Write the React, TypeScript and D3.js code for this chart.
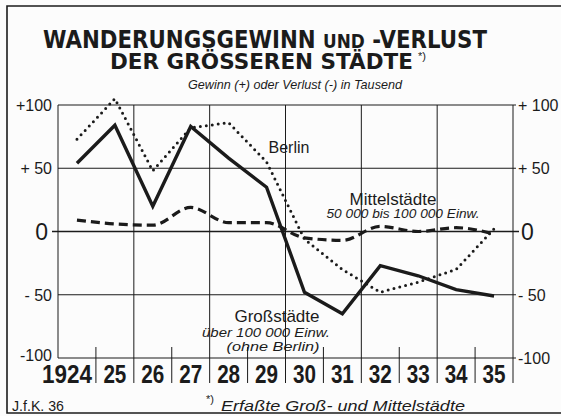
import { useEffect, useRef } from "react";
import * as d3 from "d3";

const years = ["1924", "25", "26", "27", "28", "29", "30", "31", "32", "33", "34", "35"];
const berlin = [73, 105, 48, 82, 86, 55, -6, -30, -48, -40, -30, 2];
const grossstaedte = [54, 84, 20, 83, 58, 35, -48, -65, -27, -35, -46, -51];
const mittelstaedte = [9, 6, 5, 19, 7, 7, -5, -7, 4, 0, 3, -2];
const yTicks = [100, 50, 0, -50, -100];
const tickLabels = ["+100", "+ 50", "0", "- 50", "-100"];
const rightLabels = ["+ 100", "+ 50", "0", "- 50", "-100"];

const INK = "#1b1b1b";
const SANS = "'Liberation Sans', Arial, sans-serif";

const App = () => {
  const svgRef = useRef<SVGSVGElement>(null);

  useEffect(() => {
    const width = 561;
    const height = 416;
    const svg = d3.select(svgRef.current).attr("width", width).attr("height", height);
    svg.selectAll("*").remove();

    svg.append("rect").attr("width", width).attr("height", height).attr("fill", "#fcfcfc");

    // frame
    svg.append("path")
      .attr("d", `M${width},6H7V413H${width}`)
      .attr("fill", "none").attr("stroke", INK).attr("stroke-width", 1.6);

    const left = 58, right = 513, top = 105, bottom = 358, axisBottom = 383;
    const x = d3.scaleBand().domain(years).range([left, right]);
    const y = d3.scaleLinear().domain([-100, 100]).range([bottom, top]);
    const cx = (d: string) => (x(d) as number) + x.bandwidth() / 2;

    // title
    const t1 = svg.append("text")
      .attr("x", 43).attr("y", 48)
      .attr("textLength", 444).attr("lengthAdjust", "spacingAndGlyphs")
      .style("font-family", "'DejaVu Sans', sans-serif").style("font-weight", "bold")
      .style("font-size", "24px").attr("fill", INK);
    t1.append("tspan").text("WANDERUNGSGEWINN ");
    t1.append("tspan").style("font-size", "19px").text("UND");
    t1.append("tspan").text(" -VERLUST");

    svg.append("text")
      .attr("x", 110).attr("y", 69)
      .attr("textLength", 303).attr("lengthAdjust", "spacingAndGlyphs")
      .style("font-family", "'DejaVu Sans', sans-serif").style("font-weight", "bold")
      .style("font-size", "21px").attr("fill", INK)
      .text("DER GRÖSSEREN STÄDTE");
    svg.append("text")
      .attr("x", 418).attr("y", 60)
      .style("font-family", SANS).style("font-size", "11px").attr("fill", INK)
      .text("*)");

    svg.append("text")
      .attr("x", 188).attr("y", 89)
      .attr("textLength", 214).attr("lengthAdjust", "spacingAndGlyphs")
      .style("font-family", SANS).style("font-style", "italic")
      .style("font-size", "13.5px").attr("fill", INK)
      .text("Gewinn (+) oder Verlust (-)  in Tausend");

    // horizontal gridlines
    svg.selectAll(".hgrid")
      .data(yTicks.filter((d) => d !== 0))
      .enter().append("line")
      .attr("x1", left).attr("x2", right + 3)
      .attr("y1", (d) => y(d)).attr("y2", (d) => y(d))
      .attr("stroke", INK).attr("stroke-width", 1);

    svg.append("line")
      .attr("x1", left - 6).attr("x2", right + 6)
      .attr("y1", y(0)).attr("y2", y(0))
      .attr("stroke", INK).attr("stroke-width", 1.6);

    // vertical lines & year separators
    const edges = d3.range(0, years.length + 1);
    svg.selectAll(".vgrid")
      .data(edges)
      .enter().append("line")
      .attr("x1", (k) => left + k * x.step()).attr("x2", (k) => left + k * x.step())
      .attr("y1", (k) => (k % 2 === 0 ? top : bottom - 11))
      .attr("y2", (k) => (k === 0 ? bottom : axisBottom))
      .attr("stroke", INK).attr("stroke-width", 1);

    // axis labels
    svg.selectAll(".ylab")
      .data(yTicks)
      .enter().append("text")
      .attr("x", (d) => (d === 0 ? 48 : 52))
      .attr("y", (d) => y(d))
      .attr("dy", (d) => (d === -100 ? "0.2em" : "0.36em"))
      .attr("text-anchor", "end")
      .style("font-family", SANS)
      .style("font-size", (d) => (d === 0 ? "23px" : "16px"))
      .attr("fill", INK)
      .text((d, i) => tickLabels[i]);

    svg.selectAll(".rlab")
      .data(yTicks)
      .enter().append("text")
      .attr("x", (d) => (d === 0 ? 521 : 518))
      .attr("y", (d) => y(d))
      .attr("dy", "0.36em")
      .style("font-family", SANS)
      .style("font-size", (d) => (d === 0 ? "23px" : "16px"))
      .attr("fill", INK)
      .text((d, i) => rightLabels[i]);

    svg.selectAll(".xlab")
      .data(years)
      .enter().append("text")
      .attr("x", (d, i) => (i === 0 ? (x(d) as number) + x.bandwidth() - 4 : cx(d)))
      .attr("y", axisBottom)
      .attr("text-anchor", (d, i) => (i === 0 ? "end" : "middle"))
      .attr("textLength", (d) => (d.length === 4 ? 50 : 23))
      .attr("lengthAdjust", "spacingAndGlyphs")
      .style("font-family", SANS).style("font-weight", "bold")
      .style("font-size", "25px").attr("fill", INK)
      .text((d) => d);

    // series
    const line = (curve: d3.CurveFactory) =>
      d3.line<number>().x((d, i) => cx(years[i])).y((d) => y(d)).curve(curve);

    svg.append("path")
      .attr("d", line(d3.curveMonotoneX)(mittelstaedte))
      .attr("fill", "none").attr("stroke", INK).attr("stroke-width", 3.2)
      .attr("stroke-dasharray", "9 5");

    svg.append("path")
      .attr("d", line(d3.curveLinear)(berlin))
      .attr("fill", "none").attr("stroke", INK).attr("stroke-width", 3)
      .attr("stroke-linecap", "round")
      .attr("stroke-dasharray", "0 6");

    svg.append("path")
      .attr("d", line(d3.curveLinear)(grossstaedte))
      .attr("fill", "none").attr("stroke", INK).attr("stroke-width", 3.4)
      .attr("stroke-linejoin", "miter");

    // series labels
    const label = (tx: number, ty: number, text: string, size: number, italic = false, len = 0) => {
      const t = svg.append("text")
        .attr("x", tx).attr("y", ty).attr("text-anchor", "middle")
        .style("font-family", SANS).style("font-size", `${size}px`)
        .style("font-style", italic ? "italic" : "normal")
        .attr("fill", INK).text(text);
      if (len) t.attr("textLength", len).attr("lengthAdjust", "spacingAndGlyphs");
      return t;
    };

    label(289, 153, "Berlin", 16);
    label(393, 205, "Mittelstädte", 17);
    label(403, 218, "50 000 bis 100 000 Einw.", 12, true, 153);
    label(277, 322, "Großstädte", 17);
    label(266, 337, "über 100 000 Einw.", 13, true, 128);
    label(273, 351, "(ohne Berlin)", 13, true, 93);

    // footer
    svg.append("text")
      .attr("x", 12).attr("y", 411)
      .attr("textLength", 52).attr("lengthAdjust", "spacingAndGlyphs")
      .style("font-family", SANS).style("font-size", "14px").attr("fill", INK)
      .text("J.f.K. 36");
    svg.append("text")
      .attr("x", 206).attr("y", 403)
      .style("font-family", SANS).style("font-size", "11px").attr("fill", INK)
      .text("*)");
    svg.append("text")
      .attr("x", 221).attr("y", 411)
      .attr("textLength", 244).attr("lengthAdjust", "spacingAndGlyphs")
      .style("font-family", SANS).style("font-style", "italic")
      .style("font-size", "14px").attr("fill", INK)
      .text("Erfaßte Groß- und Mittelstädte");
  }, []);

  return (
    <div>
      <svg ref={svgRef} style={{ position: "absolute", left: 0, top: 0 }}></svg>
    </div>
  );
};

export default App;
